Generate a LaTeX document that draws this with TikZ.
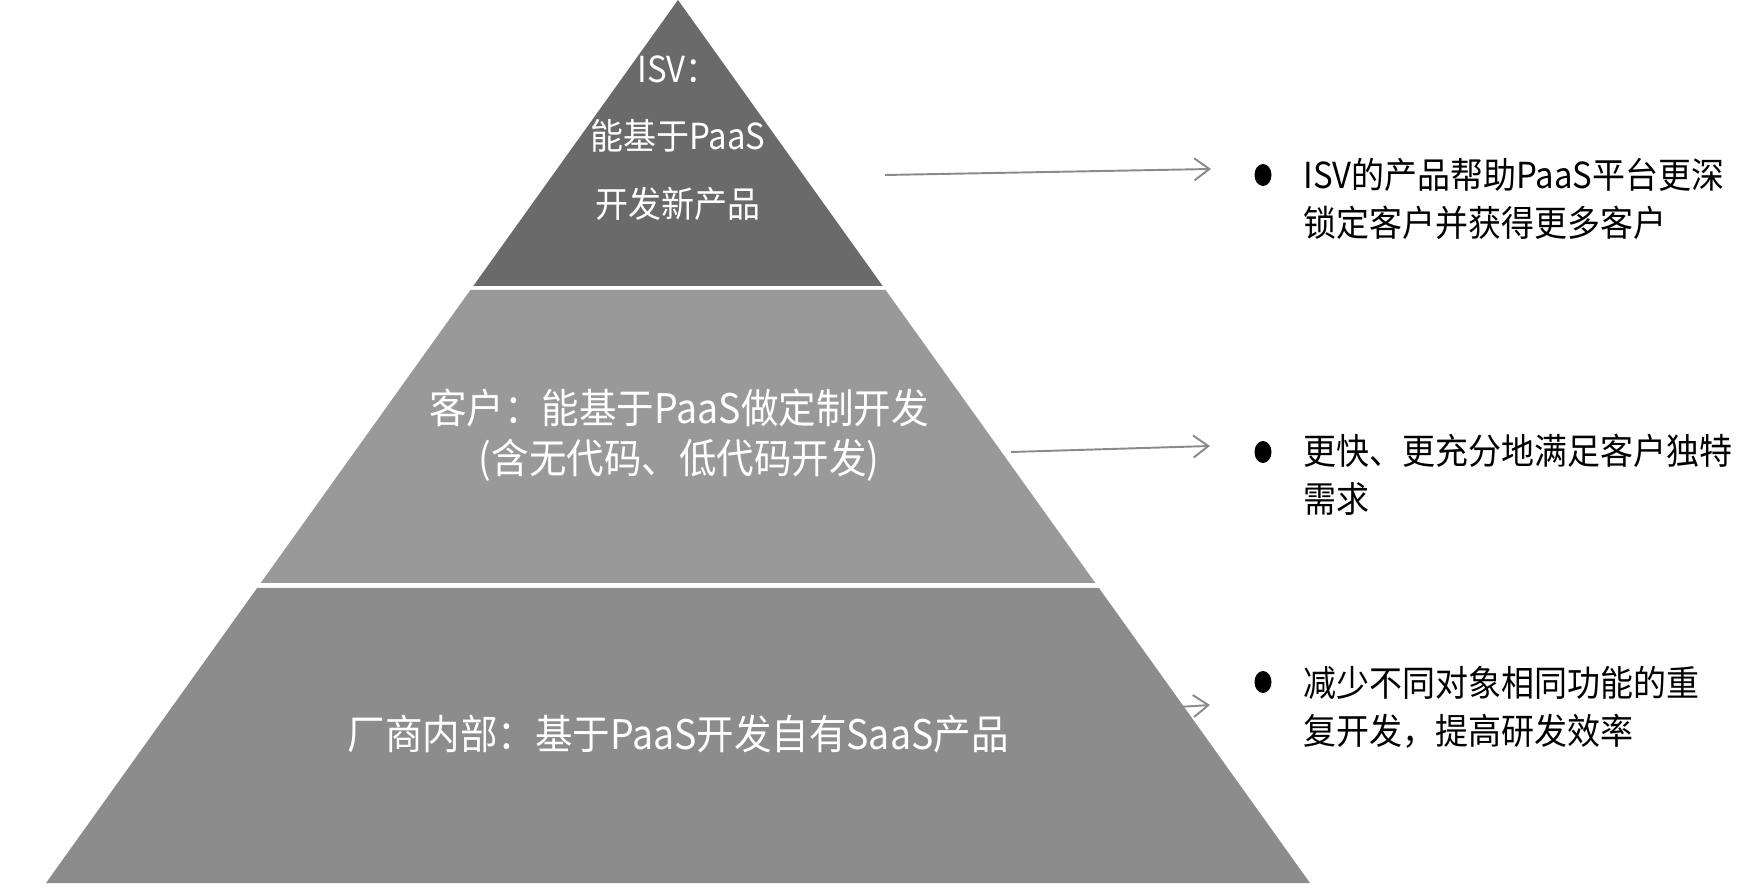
\documentclass[tikz,border=0pt]{standalone}
\usepackage{fontspec}
\usetikzlibrary{arrows.meta,shapes.geometric}
\newfontfamily\cjk[FakeStretch=0.92]{Noto Sans CJK SC}
\definecolor{topgray}{HTML}{6A6A6A}
\definecolor{midgray}{HTML}{999999}
\definecolor{basegray}{HTML}{8C8C8C}
\definecolor{linkgray}{HTML}{8A8A8A}

\begin{document}
\begin{tikzpicture}[x=0.02cm, y=0.02cm]
\tikzstyle{every node}+=[inner sep=0pt]
\tikzstyle{layer}=[text=white, align=center]
\tikzstyle{note}=[anchor=west, align=left, text=black, font=\cjk\fontsize{20.4}{27.2}\selectfont]
\tikzstyle{dot}=[ellipse, fill=black, minimum width=0.34cm, minimum height=0.44cm]
\tikzstyle{link}=[draw=linkgray, line width=1.1pt, -{Straight Barb[length=0.3cm,width=0.44cm]}]
\useasboundingbox (0,0) rectangle (1752,-891);
% pyramid layers
\fill [topgray] (678,0) -- (882.7,-286) -- (473.3,-286) -- cycle;
\fill [midgray] (470.4,-290) -- (885.6,-290) -- (1095.3,-583) -- (260.7,-583) -- cycle;
\fill [basegray] (257.1,-588) -- (1098.9,-588) -- (1310,-883) -- (46,-883) -- cycle;
\node [layer, font=\cjk\fontsize{20.4}{38.5}\selectfont] (isv) at (678,-138) {ISV：\\能基于PaaS\\开发新产品};
\node [layer, font=\cjk\fontsize{23.2}{28.3}\selectfont] (cust) at (679,-435) {客户：能基于PaaS做定制开发\\(含无代码、低代码开发)};
\node [layer, font=\cjk\fontsize{23.2}{28.3}\selectfont] (vendor) at (678,-734) {厂商内部：基于PaaS开发自有SaaS产品};
% bullets
\node [dot] (b1) at (1263,-175) {};
\node [dot] (b2) at (1263,-452) {};
\node [dot] (b3) at (1263,-682) {};
\node [note] (t1) at (1303,-199) {ISV的产品帮助PaaS平台更深\\锁定客户并获得更多客户};
\node [note] (t2) at (1303,-475) {更快、更充分地满足客户独特\\需求};
\node [note] (t3) at (1303,-707) {减少不同对象相同功能的重\\复开发，提高研发效率};
% arrows
\coordinate (a1) at (885,-175);
\coordinate (e1) at (1211,-169);
\coordinate (a2) at (1011,-452);
\coordinate (e2) at (1210,-446);
\coordinate (a3) at (1178,-707);
\coordinate (e3) at (1210,-705);
\draw [link] (a1) -- (e1);
\draw [link] (a2) -- (e2);
\draw [link] (a3) -- (e3);
\end{tikzpicture}
\end{document}
